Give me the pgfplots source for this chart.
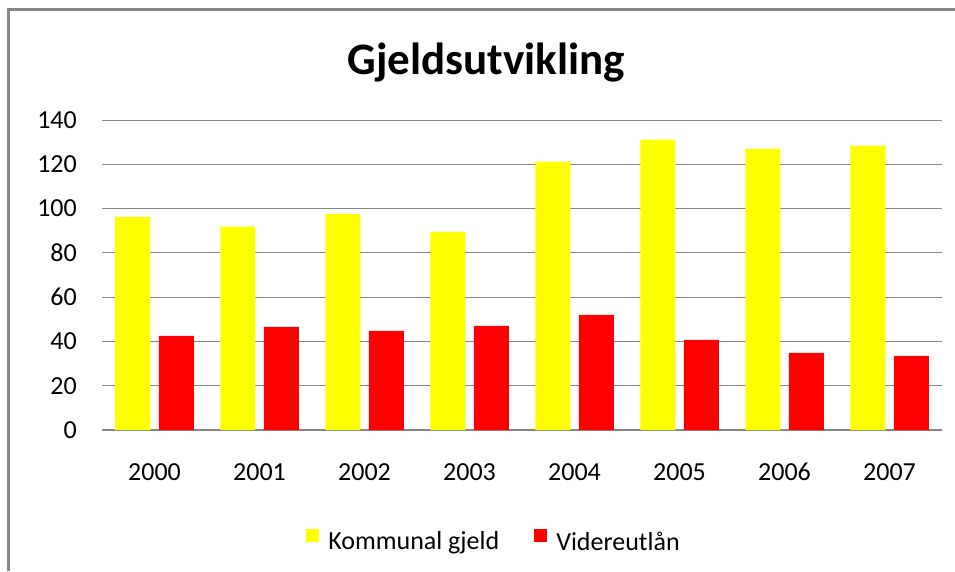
\documentclass[border=0pt]{standalone}
\usepackage{fontspec}
\setmainfont{Carlito}
\usepackage{pgfplots}
\pgfplotsset{compat=1.18}
\definecolor{gridgray}{RGB}{134,134,134}
\definecolor{byellow}{RGB}{255,255,0}
\definecolor{bred}{RGB}{255,0,0}
\begin{document}
\begin{tikzpicture}
\useasboundingbox (0,0) rectangle (955pt,571pt);
\fill[white] (0,0) rectangle (955pt,571pt);
\draw[gridgray, line width=3pt] (8pt,0pt) -- (8pt,561.5pt) -- (955pt,561.5pt);
\node[anchor=base, inner sep=0pt, font=\fontsize{45pt}{54pt}\selectfont\bfseries] at (486pt,496pt) {Gjeldsutvikling};
\begin{axis}[
  at={(102pt,141pt)}, anchor=south west,
  scale only axis, width=840pt, height=310pt,
  xmin=-0.5, xmax=7.5, ymin=0, ymax=140,
  ytick={0,20,...,140},
  xtick={0,...,7},
  xticklabels={2000,2001,2002,2003,2004,2005,2006,2007},
  axis x line*=bottom, axis y line*=left,
  y axis line style={draw=none},
  x axis line style={draw=gridgray, line width=2pt},
  tick style={draw=none},
  major tick length=0pt,
  ymajorgrids, grid style={gridgray, line width=1pt},
  /pgf/number format/assume math mode=true,
  tick label style={font=\fontsize{26pt}{31pt}\selectfont, inner sep=0pt},
  yticklabel style={anchor=east, xshift=-25pt},
  xticklabel style={anchor=north, yshift=-33pt},
  ybar=8.5pt, bar width=35pt,
  legend style={
    at={(axis description cs:0.4655,-0.355)}, anchor=center,
    draw=none, fill=none,
    legend columns=2,
    font=\fontsize{26pt}{31pt}\selectfont,
    nodes={inner sep=0pt},
    /tikz/every odd column/.append style={column sep=9pt},
    /tikz/every even column/.append style={column sep=35pt},
  },
  legend image code/.code={\fill[#1] (0pt,0pt) rectangle (13pt,13pt);},
]
\addplot[fill=byellow, draw=none] coordinates {
  (0,96.2) (1,91.8) (2,97.6) (3,89.5) (4,121.2) (5,131.1) (6,127.0) (7,128.4)};
\addplot[fill=bred, draw=none] coordinates {
  (0,42.5) (1,46.6) (2,44.8) (3,47.0) (4,52.0) (5,40.7) (6,34.8) (7,33.5)};
\legend{Kommunal gjeld, Videreutlån}
\end{axis}
\end{tikzpicture}
\end{document}
